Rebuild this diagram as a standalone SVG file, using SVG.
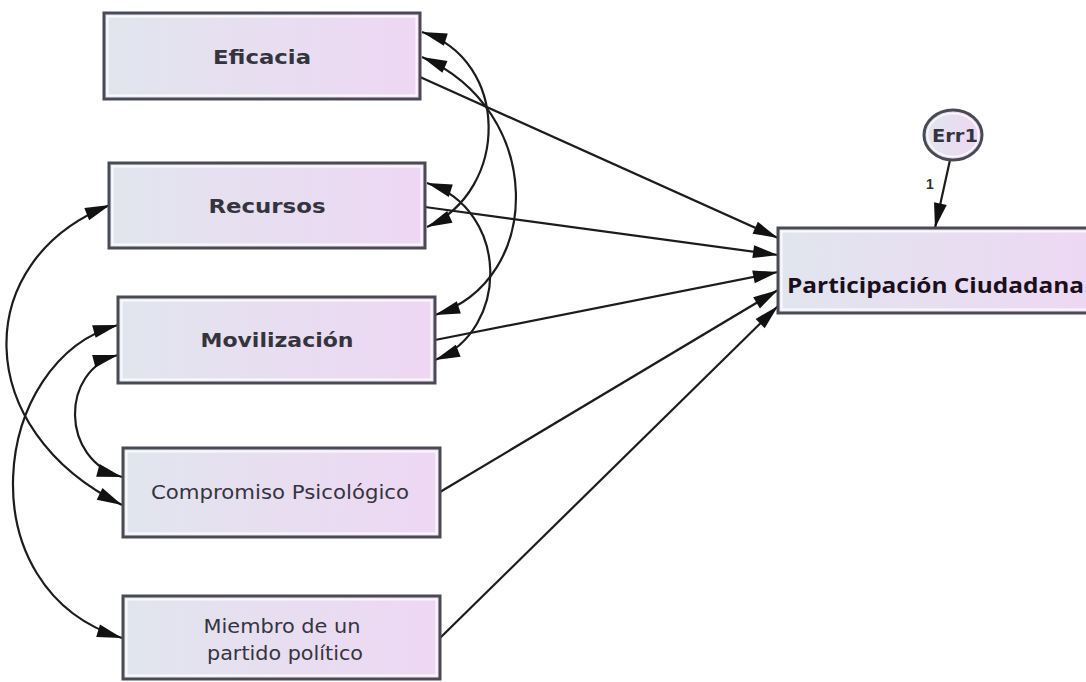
<svg xmlns="http://www.w3.org/2000/svg" width="1086" height="682" viewBox="0 0 1086 682">
  <defs>
    <linearGradient id="boxfill" x1="0" y1="0" x2="1" y2="0">
      <stop offset="0" stop-color="#e1e5ee"/>
      <stop offset="1" stop-color="#eed7f3"/>
    </linearGradient>
    <marker id="ah" markerUnits="userSpaceOnUse" markerWidth="26" markerHeight="16" refX="25" refY="8" orient="auto-start-reverse" viewBox="0 0 26 16" overflow="visible">
      <path d="M0,1.5 L25,8 L0,14.5 z" fill="#111"/>
    </marker>
    <style>
      .box { fill: url(#boxfill); stroke: #4a4a55; stroke-width: 3; }
      .inner { fill: none; stroke: #ffffff; stroke-width: 2; opacity: 0.8; }
      .lbl { font-family: "DejaVu Sans", "Liberation Sans", sans-serif; fill: #34343f; text-anchor: middle; }
      .bold { font-weight: bold; font-size: 20px; }
      .reg { font-size: 19px; }
      .conn { fill: none; stroke: #1c1c1c; stroke-width: 2.2; }
    </style>
  </defs>
  <rect width="1086" height="682" fill="#ffffff"/>

  <g id="connectors">
    <line class="conn" x1="420" y1="77" x2="778" y2="238" marker-end="url(#ah)"/>
    <line class="conn" x1="425" y1="207" x2="778" y2="255" marker-end="url(#ah)"/>
    <line class="conn" x1="435" y1="340" x2="778" y2="272" marker-end="url(#ah)"/>
    <line class="conn" x1="440" y1="492" x2="778" y2="290" marker-end="url(#ah)"/>
    <line class="conn" x1="440" y1="638" x2="778" y2="306" marker-end="url(#ah)"/>
    <line class="conn" x1="950" y1="160" x2="935" y2="228" marker-end="url(#ah)"/>
    <path class="conn" d="M422,32 C510,60 510,190 427,227" marker-start="url(#ah)" marker-end="url(#ah)"/>
    <path class="conn" d="M422,57 C545,110 545,280 435,315" marker-start="url(#ah)" marker-end="url(#ah)"/>
    <path class="conn" d="M427,183 C510,210 510,330 435,360" marker-start="url(#ah)" marker-end="url(#ah)"/>
    <path class="conn" d="M110,205 C-30,260 -30,430 122,505" marker-start="url(#ah)" marker-end="url(#ah)"/>
    <path class="conn" d="M118,325 C-10,360 -35,590 122,638" marker-start="url(#ah)" marker-end="url(#ah)"/>
    <path class="conn" d="M118,355 C60,370 60,460 122,477" marker-start="url(#ah)" marker-end="url(#ah)"/>
    <text x="930" y="189" font-family="Liberation Sans, sans-serif" font-size="14" font-weight="bold" fill="#333" text-anchor="middle">1</text>
  </g>

  <g id="eficacia">
    <rect class="box" x="104" y="13" width="316" height="86"/>
    <rect class="inner" x="107.5" y="16.5" width="309" height="79"/>
    <text class="lbl bold" x="262" y="64" textLength="98" lengthAdjust="spacingAndGlyphs">Eficacia</text>
  </g>
  <g id="recursos">
    <rect class="box" x="109" y="163" width="316" height="85"/>
    <rect class="inner" x="112.5" y="166.5" width="309" height="78"/>
    <text class="lbl bold" x="267" y="213" textLength="117" lengthAdjust="spacingAndGlyphs">Recursos</text>
  </g>
  <g id="movilizacion">
    <rect class="box" x="118" y="297" width="317" height="86"/>
    <rect class="inner" x="121.5" y="300.5" width="310" height="79"/>
    <text class="lbl bold" x="277" y="347" textLength="153" lengthAdjust="spacingAndGlyphs">Movilización</text>
  </g>
  <g id="compromiso">
    <rect class="box" x="123" y="448" width="317" height="89"/>
    <rect class="inner" x="126.5" y="451.5" width="310" height="82"/>
    <text class="lbl reg" x="280" y="499" textLength="258" lengthAdjust="spacingAndGlyphs">Compromiso Psicológico</text>
  </g>
  <g id="miembro">
    <rect class="box" x="123" y="596" width="317" height="83"/>
    <rect class="inner" x="126.5" y="599.5" width="310" height="76"/>
    <text class="lbl reg" x="282" y="633" textLength="157" lengthAdjust="spacingAndGlyphs">Miembro de un</text>
    <text class="lbl reg" x="285" y="660" textLength="156" lengthAdjust="spacingAndGlyphs">partido político</text>
  </g>
  <g id="participacion">
    <rect class="box" x="778" y="228" width="330" height="85"/>
    <rect class="inner" x="781.5" y="231.5" width="330" height="78"/>
    <text x="787" y="293" font-family="Open Sans, Noto Sans, sans-serif" font-weight="bold" font-size="22" fill="#1a0f1c" textLength="297" lengthAdjust="spacingAndGlyphs">Participación Ciudadana</text>
  </g>
  <g id="err1">
    <ellipse cx="953" cy="135" rx="29" ry="25" fill="url(#boxfill)" stroke="#4a4a55" stroke-width="3"/>
    <ellipse cx="953" cy="135" rx="25.5" ry="21.5" fill="none" stroke="#fff" stroke-width="1.5" opacity="0.8"/>
    <text x="955" y="142" font-family="DejaVu Sans, sans-serif" font-size="18" font-weight="bold" fill="#34343f" text-anchor="middle" textLength="46" lengthAdjust="spacingAndGlyphs">Err1</text>
  </g>
</svg>
